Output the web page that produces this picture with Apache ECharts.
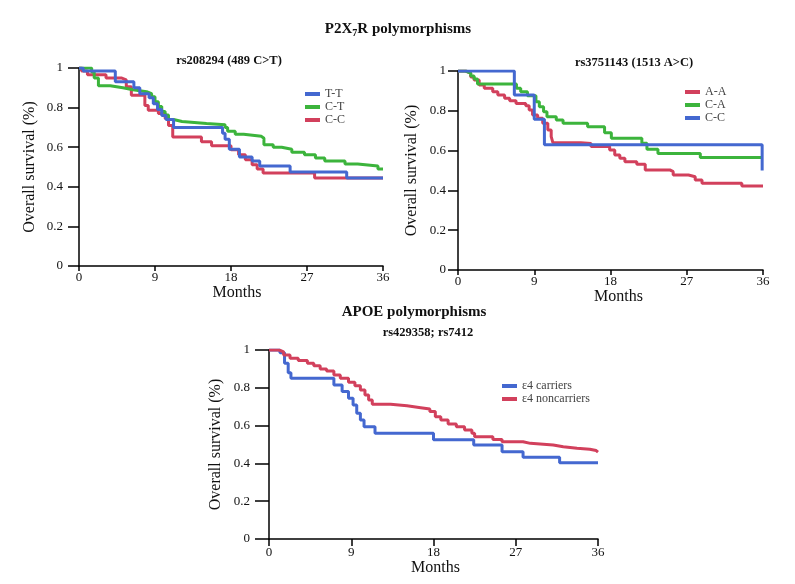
<!DOCTYPE html>
<html>
<head>
<meta charset="utf-8">
<script src="https://cdn.jsdelivr.net/npm/echarts@6/dist/echarts.min.js"></script>
<style>html,body{margin:0;padding:0;background:#fff}#c{width:795px;height:584px}</style>
</head>
<body>
<div id="c"></div>
<script>
// ---- Data (months, survival) ----
const xTicks = [0, 9, 18, 27, 36];
const yTicks = [0, 0.2, 0.4, 0.6, 0.8, 1];

// Panel 1: rs208294 (489 C>T)
const p1_TT_t = [0, 0.5, 4.3, 6.5, 7.2, 8.3, 8.8, 9.3, 9.8, 10.3, 11.2, 17.0, 17.3, 17.8, 19.0, 20.5, 21.4, 25.0, 31.7, 36];
const p1_TT_s = [1, 0.985, 0.93, 0.90, 0.87, 0.85, 0.82, 0.79, 0.76, 0.74, 0.70, 0.67, 0.64, 0.59, 0.55, 0.53, 0.505, 0.475, 0.445, 0.445];
const p1_CT_t = [0, 1.5, 1.8, 2.3, 3.7, 5.2, 6.4, 8.0, 8.6, 9.0, 9.4, 9.8, 10.2, 10.6, 11.2, 12.2, 15.1, 17.3, 17.6, 18.5, 19.5, 21.6, 21.9, 23.0, 24.0, 25.2, 26.7, 28.0, 29.1, 31.5, 33.0, 35.4, 36];
const p1_CT_s = [1, 0.98, 0.95, 0.91, 0.90, 0.89, 0.88, 0.87, 0.855, 0.83, 0.805, 0.78, 0.763, 0.74, 0.73, 0.72, 0.713, 0.70, 0.68, 0.665, 0.655, 0.645, 0.612, 0.60, 0.59, 0.575, 0.562, 0.545, 0.53, 0.515, 0.505, 0.49, 0.49];
const p1_CC_t = [0, 0.3, 1.0, 3.2, 5.0, 5.6, 6.2, 7.8, 8.2, 9.4, 10.2, 10.6, 11.1, 14.5, 15.7, 18.0, 18.9, 19.7, 20.5, 21.1, 21.8, 27.9, 36];
const p1_CC_s = [1, 0.985, 0.966, 0.95, 0.94, 0.905, 0.862, 0.81, 0.787, 0.77, 0.745, 0.71, 0.652, 0.627, 0.607, 0.587, 0.562, 0.537, 0.511, 0.49, 0.47, 0.444, 0.444];

// Panel 2: rs3751143 (1513 A>C)
const p2_AA_t = [0, 0.9, 1.5, 1.9, 2.5, 3.1, 4.1, 4.7, 5.5, 6.1, 6.85, 8.0, 8.4, 8.8, 9.4, 10.0, 10.6, 11.0, 11.2, 14.5, 15.7, 17.9, 18.5, 19.1, 19.7, 21.1, 22.1, 25.0, 25.4, 27.2, 28.0, 28.8, 33.5, 36];
const p2_AA_s = [1, 0.99, 0.97, 0.955, 0.93, 0.913, 0.896, 0.88, 0.863, 0.85, 0.837, 0.825, 0.804, 0.779, 0.762, 0.737, 0.704, 0.67, 0.64, 0.636, 0.62, 0.603, 0.578, 0.561, 0.544, 0.531, 0.503, 0.494, 0.477, 0.469, 0.452, 0.436, 0.422, 0.422];
const p2_CA_t = [0, 0.9, 1.5, 1.9, 2.3, 6.9, 7.4, 8.2, 9.2, 9.6, 10.1, 10.5, 11.6, 12.4, 15.3, 17.3, 18.1, 21.7, 22.3, 23.6, 28.6, 35.8];
const p2_CA_s = [1, 0.99, 0.975, 0.96, 0.935, 0.913, 0.896, 0.876, 0.846, 0.82, 0.795, 0.77, 0.754, 0.737, 0.72, 0.69, 0.662, 0.637, 0.607, 0.586, 0.565, 0.565];
const p2_CC_t = [0, 6.65, 9.0, 10.2, 35.9];
const p2_CC_s = [1, 0.88, 0.757, 0.63, 0.50];

// Panel 3: APOE rs429358; rs7412
const p3_car_t = [0, 1.2, 1.7, 2.1, 2.4, 7.1, 8.0, 8.7, 9.2, 9.6, 10.0, 10.4, 11.6, 18.0, 22.4, 25.5, 27.8, 31.8, 36];
const p3_car_s = [1, 0.985, 0.93, 0.88, 0.85, 0.815, 0.78, 0.745, 0.709, 0.665, 0.63, 0.594, 0.56, 0.525, 0.497, 0.462, 0.432, 0.404, 0.404];
const p3_non_t = [0, 1.1, 1.6, 2.3, 3.2, 4.2, 4.9, 5.6, 6.3, 7.1, 7.8, 8.7, 9.4, 10.0, 10.5, 10.9, 11.3, 13.3, 15.1, 16.6, 17.6, 18.2, 18.8, 19.6, 20.5, 21.4, 22.2, 22.5, 24.5, 25.5, 27.8, 28.6, 31.1, 32.2, 33.7, 35.1, 35.8, 36];
const p3_non_s = [1, 0.99, 0.974, 0.956, 0.944, 0.93, 0.917, 0.90, 0.889, 0.868, 0.85, 0.829, 0.811, 0.788, 0.762, 0.735, 0.713, 0.705, 0.695, 0.688, 0.674, 0.647, 0.63, 0.608, 0.594, 0.577, 0.559, 0.541, 0.527, 0.515, 0.506, 0.497, 0.488, 0.48, 0.475, 0.468, 0.46, 0.46];

// ---- Styling ----
const SERIF = '"Liberation Serif", "Times New Roman", serif';
const BLUE = '#4468d0', GREEN = '#3cb43c', RED = '#d2405c';

function zip(t, s) { return t.map((v, i) => [v, s[i]]); }

const grids = [
  { left: 79, top: 68, width: 304, height: 198 },
  { left: 458, top: 71, width: 305, height: 199 },
  { left: 269, top: 350, width: 329, height: 189 }
];
const axCfg = [
  { yTick: 11, yMargin: 16, yGap: 41, xTick: 5, xMargin: 5, xGap: 14, xNamePad: 12 },
  { yTick: 10, yMargin: 12, yGap: 38, xTick: 5, xMargin: 5, xGap: 15, xNamePad: 16 },
  { yTick: 14, yMargin: 19, yGap: 45, xTick: 7, xMargin: 7, xGap: 15, xNamePad: 4 }
];

const xAxes = axCfg.map((c, i) => ({
  type: 'value', gridIndex: i, min: xTicks[0], max: xTicks[xTicks.length - 1], interval: xTicks[1] - xTicks[0],
  name: 'Months', nameLocation: 'middle', nameGap: c.xGap,
  nameTextStyle: { fontFamily: SERIF, fontSize: 16, color: '#111', padding: [0, 0, 0, c.xNamePad] },
  axisLine: { show: true, onZero: false, lineStyle: { color: '#000', width: 1.5 } },
  axisTick: { show: true, length: c.xTick, lineStyle: { color: '#000', width: 1.5 } },
  axisLabel: { fontFamily: SERIF, fontSize: 13, color: '#111', margin: c.xMargin },
  splitLine: { show: false }
}));
const yAxes = axCfg.map((c, i) => ({
  type: 'value', gridIndex: i, min: yTicks[0], max: yTicks[yTicks.length - 1], interval: yTicks[1] - yTicks[0],
  name: 'Overall survival (%)', nameLocation: 'middle', nameGap: c.yGap,
  nameTextStyle: { fontFamily: SERIF, fontSize: 16, color: '#111' },
  axisLine: { show: true, onZero: false, lineStyle: { color: '#000', width: 1.5 } },
  axisTick: { show: true, length: c.yTick, lineStyle: { color: '#000', width: 1.5 } },
  axisLabel: { fontFamily: SERIF, fontSize: 13, color: '#111', margin: c.yMargin,
    formatter: v => (v === 0 || v === 1) ? String(v) : v.toFixed(1) },
  splitLine: { show: false }
}));

function km(name, t, s, color, gi, z) {
  return {
    type: 'line', name, step: 'end', xAxisIndex: gi, yAxisIndex: gi,
    data: zip(t, s), showSymbol: false, symbol: 'none', z: z,
    lineStyle: { color, width: 3 }, itemStyle: { color }, animation: false
  };
}

const legendBase = {
  orient: 'vertical', icon: 'rect', itemWidth: 15, itemHeight: 4, itemGap: 1,
  textStyle: { fontFamily: SERIF, fontSize: 12, color: '#444' }, padding: 0, selectedMode: false
};

const option = {
  backgroundColor: '#fff',
  animation: false,
  title: [
    { text: '{a|P2X}{s|7}{a|R polymorphisms}', left: 398, top: 20, textAlign: 'center', padding: 0,
      textStyle: { rich: {
        a: { fontFamily: SERIF, fontSize: 15, fontWeight: 'bold', color: '#111', lineHeight: 18 },
        s: { fontFamily: SERIF, fontSize: 10, fontWeight: 'bold', color: '#111', lineHeight: 10, padding: [8, 0, 0, 0] }
      } } },
    { text: 'rs208294 (489 C>T)', left: 229, top: 54, textAlign: 'center', padding: 0,
      textStyle: { fontFamily: SERIF, fontSize: 12.5, fontWeight: 'bold', color: '#111' } },
    { text: 'rs3751143 (1513 A>C)', left: 634, top: 56, textAlign: 'center', padding: 0,
      textStyle: { fontFamily: SERIF, fontSize: 12.5, fontWeight: 'bold', color: '#111' } },
    { text: 'APOE polymorphisms', left: 414, top: 305, textAlign: 'center', padding: 0,
      textStyle: { fontFamily: SERIF, fontSize: 15, fontWeight: 'bold', color: '#111' } },
    { text: 'rs429358; rs7412', left: 428, top: 326, textAlign: 'center', padding: 0,
      textStyle: { fontFamily: SERIF, fontSize: 12.5, fontWeight: 'bold', color: '#111' } }
  ],
  legend: [
    Object.assign({}, legendBase, { left: 305, top: 88, data: [
      { name: 'T-T', itemStyle: { color: BLUE } },
      { name: 'C-T', itemStyle: { color: GREEN } },
      { name: 'C-C', itemStyle: { color: RED } }] }),
    Object.assign({}, legendBase, { left: 685, top: 86, data: [
      { name: 'A-A', itemStyle: { color: RED } },
      { name: 'C-A', itemStyle: { color: GREEN } },
      { name: 'C-C', itemStyle: { color: BLUE } }] }),
    Object.assign({}, legendBase, { left: 502, top: 380, data: [
      { name: 'ε4 carriers', itemStyle: { color: BLUE } },
      { name: 'ε4 noncarriers', itemStyle: { color: RED } }] })
  ],
  grid: grids,
  xAxis: xAxes,
  yAxis: yAxes,
  series: [
    km('C-C', p1_CC_t, p1_CC_s, RED, 0, 2),
    km('C-T', p1_CT_t, p1_CT_s, GREEN, 0, 3),
    km('T-T', p1_TT_t, p1_TT_s, BLUE, 0, 4),
    km('A-A', p2_AA_t, p2_AA_s, RED, 1, 2),
    km('C-A', p2_CA_t, p2_CA_s, GREEN, 1, 3),
    km('C-C', p2_CC_t, p2_CC_s, BLUE, 1, 4),
    km('ε4 carriers', p3_car_t, p3_car_s, BLUE, 2, 2),
    km('ε4 noncarriers', p3_non_t, p3_non_s, RED, 2, 3)
  ]
};

const chart = echarts.init(document.getElementById('c'), null, { renderer: 'canvas' });
chart.setOption(option);
</script>
</body>
</html>
